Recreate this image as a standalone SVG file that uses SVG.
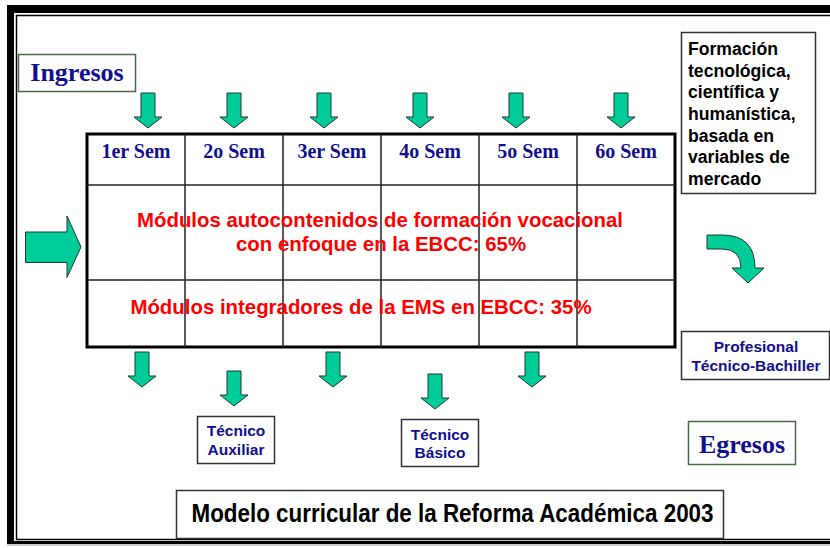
<svg xmlns="http://www.w3.org/2000/svg" xmlns:xlink="http://www.w3.org/1999/xlink" width="830" height="548" viewBox="0 0 830 548">
<style>
.arrow{fill:#00CC99;stroke:#1f3b2c;stroke-width:1}
.box{fill:#fff;stroke:#333;stroke-width:1.5}
.gbox{fill:#fff;stroke:#4a6a48;stroke-width:1.5}
.serif{font-family:"Liberation Serif","Times New Roman",serif;font-weight:bold;fill:#10108f}
.sans{font-family:"Liberation Sans",Arial,sans-serif;font-weight:bold}
.navy{fill:#10108f}
.red{fill:#ff0000;font-size:20.4px}
.blk{fill:#000}
.grid{stroke:#222;stroke-width:1.5}
</style>
<defs>
<path id="darr" d="M-7,0 H7 V24 H14 L0,35 L-14,24 H-7 Z"/>
</defs>
<rect width="830" height="548" fill="#fff"/>
<g id="frame">
<rect x="7" y="5" width="823" height="8" fill="#000"/>
<rect x="7" y="5" width="7" height="539" fill="#000"/>
<rect x="7" y="541" width="823" height="3" fill="#000"/>
<line x1="7" y1="545" x2="830" y2="545" stroke="#999" stroke-width="1"/>
<rect x="16.5" y="15.5" width="900" height="524" fill="none" stroke="#000" stroke-width="1.5"/>
</g>
<g id="ingresos">
<rect class="gbox" x="18.5" y="54.5" width="117" height="37"/>
<text class="serif" x="77" y="81" font-size="26" text-anchor="middle">Ingresos</text>
</g>
<g id="table">
<rect x="87" y="134" width="588" height="213" fill="#fff" stroke="#000" stroke-width="3"/>
<g class="grid">
<line x1="185" y1="134" x2="185" y2="347"/>
<line x1="283" y1="134" x2="283" y2="347"/>
<line x1="381" y1="134" x2="381" y2="347"/>
<line x1="479" y1="134" x2="479" y2="347"/>
<line x1="577" y1="134" x2="577" y2="347"/>
<line x1="87" y1="185" x2="675" y2="185"/>
<line x1="87" y1="280" x2="675" y2="280"/>
</g>
<g class="serif" font-size="20" text-anchor="middle">
<text x="136" y="158">1er Sem</text>
<text x="234" y="158">2o Sem</text>
<text x="332" y="158">3er Sem</text>
<text x="430" y="158">4o Sem</text>
<text x="528" y="158">5o Sem</text>
<text x="626" y="158">6o Sem</text>
</g>
<g class="sans red" text-anchor="middle">
<text x="380" y="227">Módulos autocontenidos de formación vocacional</text>
<text x="381" y="251">con enfoque en la EBCC: 65%</text>
<text x="361" y="314">Módulos integradores de la EMS en EBCC: 35%</text>
</g>
</g>
<g id="formacion">
<rect class="box" x="681.5" y="32.5" width="134" height="161"/>
<g class="sans blk" font-size="17.6">
<text x="688" y="55">Formación</text>
<text x="688" y="76.7">tecnológica,</text>
<text x="688" y="98.3">científica y</text>
<text x="688" y="120">humanística,</text>
<text x="688" y="141.7">basada en</text>
<text x="688" y="163.3">variables de</text>
<text x="688" y="185">mercado</text>
</g>
</g>
<g id="profesional">
<rect class="box" x="681.5" y="331.5" width="148" height="48"/>
<g class="sans navy" font-size="15.5" text-anchor="middle">
<text x="756" y="352">Profesional</text>
<text x="756" y="371">Técnico-Bachiller</text>
</g>
</g>
<g id="tecnico-auxiliar">
<rect class="box" x="197.5" y="416.5" width="77" height="47"/>
<g class="sans navy" font-size="15.5" text-anchor="middle">
<text x="236" y="436">Técnico</text>
<text x="236" y="454.5">Auxiliar</text>
</g>
</g>
<g id="tecnico-basico">
<rect class="box" x="401.5" y="419.5" width="77" height="47"/>
<g class="sans navy" font-size="15.5" text-anchor="middle">
<text x="440" y="439.5">Técnico</text>
<text x="440" y="457.5">Básico</text>
</g>
</g>
<g id="egresos">
<rect class="gbox" x="688.5" y="421.5" width="107" height="43"/>
<text class="serif" x="742" y="453" font-size="26" text-anchor="middle">Egresos</text>
</g>
<g id="titulo">
<rect class="box" x="176.5" y="490.5" width="547" height="48"/>
<text class="sans blk" x="191.5" y="522" font-size="26" textLength="522" lengthAdjust="spacingAndGlyphs">Modelo curricular de la Reforma Académica 2003</text>
</g>
<g id="connectors" class="arrow">
<use xlink:href="#darr" x="148" y="93"/>
<use xlink:href="#darr" x="234" y="93"/>
<use xlink:href="#darr" x="324" y="93"/>
<use xlink:href="#darr" x="420" y="93"/>
<use xlink:href="#darr" x="516" y="93"/>
<use xlink:href="#darr" x="621" y="93"/>
<use xlink:href="#darr" x="142" y="352"/>
<use xlink:href="#darr" x="234" y="371"/>
<use xlink:href="#darr" x="333" y="352"/>
<use xlink:href="#darr" x="435" y="374"/>
<use xlink:href="#darr" x="532" y="352"/>
<path d="M25.5,232 H67 V216 L81,247 L67,277.5 V262.5 H25.5 Z"/>
<path d="M707,235 H722 Q755,235 755,268 H764 L748,283 L732,268 H741 Q741,249 722,249 H707 Z"/>
</g>
</svg>
